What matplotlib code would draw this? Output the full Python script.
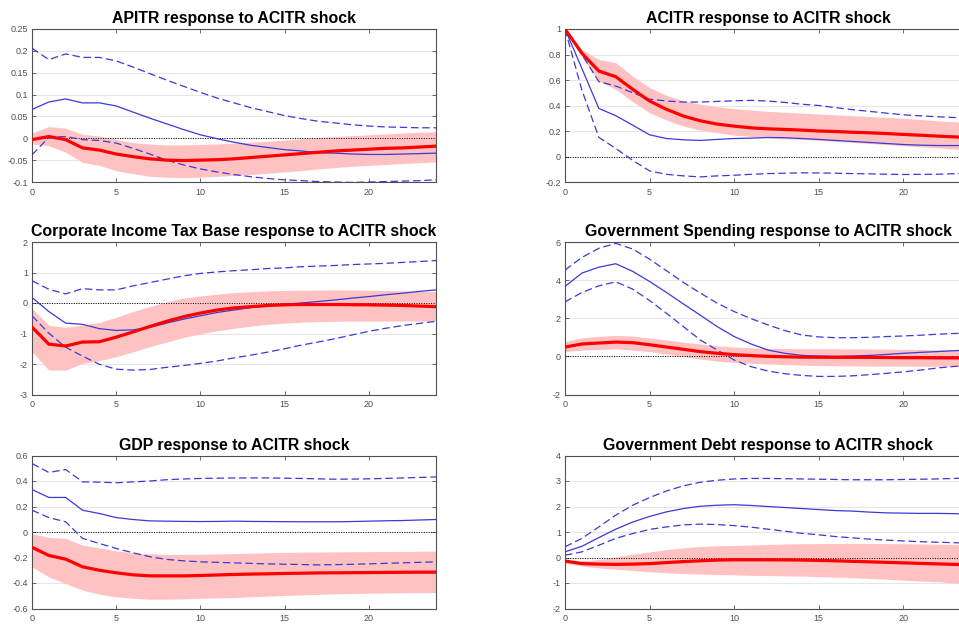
import numpy as np
import matplotlib
matplotlib.use('Agg')
import matplotlib.pyplot as plt
from matplotlib.ticker import FuncFormatter

plt.rcParams['font.family'] = ['Liberation Sans', 'DejaVu Sans']
plt.rcParams['axes.unicode_minus'] = False

# horizon (quarters after the shock)
horizon = list(range(25))

# --- panel titles / y ranges ---
titles = ['APITR response to ACITR shock',
          'ACITR response to ACITR shock',
          'Corporate Income Tax Base response to ACITR shock',
          'Government Spending response to ACITR shock',
          'GDP response to ACITR shock',
          'Government Debt response to ACITR shock']
ylims = [(-0.1, 0.25), (-0.2, 1.0), (-3, 2), (-2, 6), (-0.6, 0.6), (-2, 4)]
ysteps = [0.05, 0.2, 1, 2, 0.2, 1]

# --- APITR ---
apitr_mean = [-0.003, 0.004, -0.003, -0.022, -0.027, -0.036, -0.042, -0.047, -0.050, -0.051, -0.050, -0.049, -0.047,
              -0.044, -0.041, -0.038, -0.035, -0.032, -0.029, -0.027, -0.025, -0.023, -0.022, -0.020, -0.018]
apitr_hi = [0.012, 0.027, 0.023, 0.009, 0.005, -0.003, -0.010, -0.013, -0.015, -0.015, -0.014, -0.013, -0.011,
            -0.009, -0.007, -0.004, -0.001, 0.002, 0.004, 0.006, 0.008, 0.010, 0.012, 0.014, 0.015]
apitr_lo = [-0.013, -0.017, -0.032, -0.055, -0.062, -0.074, -0.081, -0.087, -0.089, -0.090, -0.089, -0.087, -0.085,
            -0.083, -0.080, -0.077, -0.074, -0.070, -0.067, -0.064, -0.062, -0.060, -0.058, -0.056, -0.054]
apitr_alt = [0.066, 0.083, 0.090, 0.081, 0.081, 0.074, 0.060, 0.046, 0.033, 0.020, 0.008, -0.001, -0.009,
             -0.016, -0.021, -0.026, -0.029, -0.033, -0.034, -0.036, -0.037, -0.037, -0.036, -0.035, -0.034]
apitr_alt_hi = [0.206, 0.180, 0.193, 0.185, 0.185, 0.177, 0.163, 0.148, 0.133, 0.119, 0.105, 0.092, 0.081,
                0.070, 0.061, 0.052, 0.045, 0.039, 0.035, 0.031, 0.028, 0.026, 0.025, 0.024, 0.024]
apitr_alt_lo = [-0.038, 0.002, 0.004, -0.003, -0.005, -0.011, -0.023, -0.036, -0.050, -0.061, -0.070, -0.077, -0.083,
                -0.088, -0.092, -0.095, -0.097, -0.099, -0.100, -0.101, -0.100, -0.099, -0.098, -0.097, -0.095]

# --- ACITR ---
acitr_mean = [1.0, 0.81, 0.67, 0.626, 0.527, 0.435, 0.37, 0.317, 0.28, 0.254, 0.238, 0.225, 0.217,
              0.212, 0.207, 0.200, 0.196, 0.190, 0.186, 0.180, 0.173, 0.167, 0.160, 0.154, 0.147]
acitr_hi = [1.0, 0.84, 0.76, 0.736, 0.63, 0.54, 0.48, 0.437, 0.41, 0.39, 0.375, 0.364, 0.354,
            0.347, 0.340, 0.333, 0.327, 0.320, 0.314, 0.307, 0.300, 0.290, 0.280, 0.272, 0.265]
acitr_lo = [1.0, 0.78, 0.59, 0.527, 0.43, 0.343, 0.286, 0.238, 0.207, 0.186, 0.168, 0.157, 0.147,
            0.140, 0.134, 0.126, 0.118, 0.110, 0.102, 0.093, 0.084, 0.076, 0.068, 0.059, 0.050]
acitr_alt = [1.0, 0.69, 0.377, 0.32, 0.246, 0.17, 0.141, 0.131, 0.126, 0.134, 0.141, 0.144, 0.149,
             0.147, 0.141, 0.134, 0.126, 0.118, 0.110, 0.102, 0.094, 0.089, 0.086, 0.086, 0.086]
acitr_alt_hi = [1.0, 0.80, 0.587, 0.553, 0.50, 0.45, 0.435, 0.427, 0.427, 0.432, 0.437, 0.44, 0.435,
                0.424, 0.41, 0.40, 0.383, 0.367, 0.354, 0.34, 0.327, 0.319, 0.312, 0.306, 0.30]
acitr_alt_lo = [1.0, 0.52, 0.15, 0.063, -0.03, -0.113, -0.14, -0.152, -0.16, -0.152, -0.147, -0.140, -0.134,
                -0.131, -0.128, -0.129, -0.131, -0.134, -0.136, -0.139, -0.141, -0.140, -0.139, -0.135, -0.131]

# --- Corporate income tax base ---
citb_mean = [-0.79, -1.35, -1.41, -1.28, -1.27, -1.12, -0.95, -0.77, -0.60, -0.45, -0.33, -0.23, -0.16,
             -0.12, -0.08, -0.06, -0.05, -0.05, -0.05, -0.055, -0.06, -0.07, -0.08, -0.10, -0.12]
citb_hi = [-0.18, -0.73, -0.80, -0.72, -0.64, -0.47, -0.28, -0.12, 0.04, 0.16, 0.23, 0.29, 0.34,
           0.37, 0.40, 0.41, 0.42, 0.425, 0.43, 0.425, 0.42, 0.41, 0.40, 0.385, 0.37]
citb_lo = [-1.60, -2.20, -2.20, -1.98, -1.89, -1.76, -1.60, -1.43, -1.28, -1.13, -1.01, -0.91, -0.83,
           -0.76, -0.70, -0.66, -0.63, -0.61, -0.60, -0.59, -0.59, -0.59, -0.59, -0.59, -0.59]
citb_alt = [0.18, -0.28, -0.66, -0.70, -0.84, -0.90, -0.88, -0.80, -0.66, -0.53, -0.42, -0.31, -0.23,
            -0.15, -0.10, -0.04, 0.00, 0.05, 0.10, 0.16, 0.21, 0.27, 0.32, 0.38, 0.43]
citb_alt_hi = [0.73, 0.45, 0.30, 0.47, 0.43, 0.43, 0.56, 0.67, 0.78, 0.89, 0.97, 1.02, 1.06,
               1.09, 1.13, 1.15, 1.19, 1.21, 1.23, 1.26, 1.28, 1.30, 1.33, 1.36, 1.39]
citb_alt_lo = [-0.42, -0.99, -1.45, -1.74, -2.01, -2.17, -2.20, -2.18, -2.11, -2.05, -1.98, -1.90, -1.80,
               -1.71, -1.61, -1.50, -1.38, -1.28, -1.17, -1.05, -0.93, -0.83, -0.74, -0.67, -0.60]

# --- Government spending ---
gov_mean = [0.49, 0.65, 0.70, 0.75, 0.72, 0.61, 0.49, 0.37, 0.25, 0.16, 0.09, 0.04, 0.00,
            -0.02, -0.04, -0.045, -0.05, -0.05, -0.05, -0.06, -0.07, -0.07, -0.08, -0.08, -0.09]
gov_hi = [0.77, 0.98, 1.05, 1.10, 1.07, 0.96, 0.86, 0.75, 0.65, 0.56, 0.49, 0.45, 0.42,
          0.41, 0.40, 0.40, 0.40, 0.39, 0.39, 0.38, 0.37, 0.36, 0.35, 0.34, 0.33]
gov_lo = [0.25, 0.33, 0.37, 0.39, 0.33, 0.25, 0.12, -0.02, -0.14, -0.25, -0.32, -0.36, -0.40,
          -0.43, -0.46, -0.48, -0.49, -0.50, -0.51, -0.51, -0.51, -0.52, -0.52, -0.52, -0.53]
gov_alt = [3.67, 4.37, 4.68, 4.86, 4.46, 3.93, 3.35, 2.75, 2.16, 1.56, 1.04, 0.65, 0.33,
           0.16, 0.05, 0.02, 0.00, 0.02, 0.05, 0.10, 0.16, 0.21, 0.25, 0.30, 0.33]
gov_alt_hi = [4.53, 5.19, 5.67, 5.93, 5.63, 5.10, 4.49, 3.88, 3.32, 2.79, 2.35, 1.98, 1.65,
              1.35, 1.12, 1.02, 0.98, 0.98, 1.00, 1.04, 1.07, 1.11, 1.16, 1.20, 1.23]
gov_alt_lo = [2.86, 3.35, 3.70, 3.91, 3.53, 2.93, 2.26, 1.56, 0.86, 0.33, -0.19, -0.54, -0.77,
              -0.91, -1.00, -1.05, -1.05, -1.02, -0.96, -0.89, -0.81, -0.72, -0.61, -0.53, -0.46]

# --- GDP ---
gdp_mean = [-0.12, -0.184, -0.213, -0.273, -0.30, -0.32, -0.336, -0.344, -0.344, -0.344, -0.341, -0.337, -0.333,
            -0.330, -0.328, -0.325, -0.323, -0.321, -0.320, -0.319, -0.318, -0.317, -0.316, -0.315, -0.315]
gdp_hi = [-0.012, -0.043, -0.050, -0.103, -0.124, -0.148, -0.163, -0.171, -0.176, -0.176, -0.174, -0.172, -0.169,
          -0.166, -0.163, -0.160, -0.158, -0.157, -0.156, -0.155, -0.154, -0.153, -0.152, -0.151, -0.150]
gdp_lo = [-0.273, -0.352, -0.404, -0.456, -0.488, -0.508, -0.520, -0.527, -0.527, -0.524, -0.520, -0.517, -0.514,
          -0.508, -0.503, -0.498, -0.493, -0.489, -0.485, -0.482, -0.480, -0.478, -0.477, -0.476, -0.475]
gdp_alt = [0.333, 0.271, 0.271, 0.171, 0.145, 0.113, 0.098, 0.087, 0.085, 0.083, 0.082, 0.083, 0.085,
           0.083, 0.082, 0.081, 0.080, 0.080, 0.080, 0.082, 0.085, 0.088, 0.090, 0.094, 0.098]
gdp_alt_hi = [0.537, 0.467, 0.490, 0.393, 0.391, 0.386, 0.393, 0.400, 0.410, 0.416, 0.420, 0.422, 0.424,
              0.424, 0.424, 0.422, 0.420, 0.417, 0.414, 0.415, 0.417, 0.420, 0.424, 0.428, 0.432]
gdp_alt_lo = [0.171, 0.113, 0.080, -0.050, -0.090, -0.129, -0.163, -0.194, -0.215, -0.226, -0.234, -0.238, -0.242,
              -0.246, -0.250, -0.253, -0.255, -0.258, -0.256, -0.253, -0.250, -0.246, -0.242, -0.238, -0.234]

# --- Government debt ---
debt_mean = [-0.14, -0.24, -0.26, -0.27, -0.26, -0.24, -0.20, -0.16, -0.13, -0.10, -0.09, -0.09, -0.09,
             -0.095, -0.10, -0.115, -0.13, -0.15, -0.17, -0.19, -0.21, -0.23, -0.25, -0.27, -0.29]
debt_hi = [-0.08, -0.13, -0.08, 0.03, 0.13, 0.22, 0.31, 0.38, 0.43, 0.46, 0.47, 0.49, 0.51,
           0.53, 0.54, 0.545, 0.55, 0.55, 0.55, 0.545, 0.54, 0.53, 0.52, 0.51, 0.50]
debt_lo = [-0.21, -0.33, -0.41, -0.46, -0.51, -0.56, -0.60, -0.63, -0.65, -0.67, -0.68, -0.70, -0.71,
           -0.72, -0.73, -0.75, -0.77, -0.79, -0.82, -0.85, -0.89, -0.92, -0.95, -1.00, -1.05]
debt_alt = [0.22, 0.44, 0.78, 1.11, 1.39, 1.61, 1.79, 1.92, 2.01, 2.05, 2.07, 2.04, 2.00,
            1.96, 1.92, 1.88, 1.84, 1.82, 1.78, 1.75, 1.74, 1.73, 1.73, 1.72, 1.70]
debt_alt_hi = [0.42, 0.75, 1.20, 1.66, 2.05, 2.35, 2.61, 2.81, 2.95, 3.03, 3.08, 3.10, 3.10,
               3.09, 3.08, 3.07, 3.06, 3.05, 3.05, 3.05, 3.06, 3.07, 3.08, 3.10, 3.12]
debt_alt_lo = [0.09, 0.22, 0.48, 0.75, 0.94, 1.10, 1.20, 1.28, 1.31, 1.29, 1.25, 1.19, 1.11,
               1.03, 0.95, 0.89, 0.82, 0.77, 0.72, 0.68, 0.65, 0.62, 0.60, 0.58, 0.56]

panels = [
    (apitr_mean, apitr_lo, apitr_hi, apitr_alt, apitr_alt_lo, apitr_alt_hi),
    (acitr_mean, acitr_lo, acitr_hi, acitr_alt, acitr_alt_lo, acitr_alt_hi),
    (citb_mean, citb_lo, citb_hi, citb_alt, citb_alt_lo, citb_alt_hi),
    (gov_mean, gov_lo, gov_hi, gov_alt, gov_alt_lo, gov_alt_hi),
    (gdp_mean, gdp_lo, gdp_hi, gdp_alt, gdp_alt_lo, gdp_alt_hi),
    (debt_mean, debt_lo, debt_hi, debt_alt, debt_alt_lo, debt_alt_hi),
]

RED = '#ff0000'
PINK = '#ffc2c2'
BLUE = '#3a3ad8'
AXC = '#505050'

# axes boxes in pixels: left, top, right, bottom (right column runs past the image edge)
W, H = 959, 628
cols = [(32, 436), (565, 971)]
rows = [(29, 182), (242, 394.5), (455.5, 608.5)]

fig = plt.figure(figsize=(W / 100, H / 100), dpi=100)
fig.patch.set_facecolor('white')

fmt = FuncFormatter(lambda v, p: f"{round(v, 6):g}")

for i, (mean, lo, hi, alt, alt_lo, alt_hi) in enumerate(panels):
    r, c = divmod(i, 2)
    x0, x1 = cols[c]
    yt, yb = rows[r]
    ax = fig.add_axes([x0 / W, 1 - yb / H, (x1 - x0) / W, (yb - yt) / H])

    ax.fill_between(horizon, lo, hi, color=PINK, lw=0, zorder=1)
    ax.axhline(0, color='black', ls=(0, (1, 1.5)), lw=0.7, zorder=2)
    ax.plot(horizon, alt, color=BLUE, lw=0.9, zorder=3)
    ax.plot(horizon, alt_hi, color=BLUE, lw=0.9, dashes=(6, 3), zorder=3)
    ax.plot(horizon, alt_lo, color=BLUE, lw=0.9, dashes=(6, 3), zorder=3)
    ax.plot(horizon, mean, color=RED, lw=2.3, zorder=4, solid_joinstyle='round')

    ymin, ymax = ylims[i]
    ax.set_xlim(0, 24)
    ax.set_ylim(ymin, ymax)
    ax.set_xticks([0, 5, 10, 15, 20])
    ax.set_yticks(np.arange(ymin, ymax + ysteps[i] / 2, ysteps[i]))
    ax.yaxis.set_major_formatter(fmt)
    ax.yaxis.grid(True, color='#e6e6e6', lw=0.8, zorder=0)
    ax.set_axisbelow(True)

    ax.tick_params(direction='in', length=3, width=0.6, colors=AXC, labelsize=6.5,
                   top=True, right=(c == 0))
    ax.tick_params(axis='y', pad=3)
    ax.tick_params(axis='x', pad=4)
    for s in ax.spines.values():
        s.set_color(AXC)
        s.set_linewidth(0.8)
    if c == 1:
        # the source image is cropped before the right edge of these panels
        ax.spines['right'].set_visible(False)

    ax.set_title(titles[i], fontsize=11.4, fontweight='bold', color='black', pad=4)

fig.savefig('out.png', dpi=100, facecolor='white')
